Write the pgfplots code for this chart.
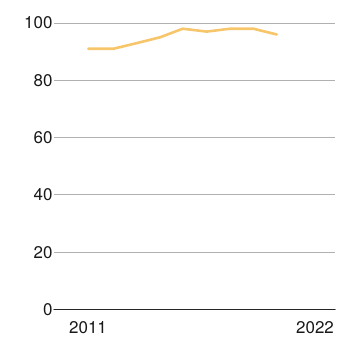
\documentclass[border=0pt]{standalone}
\usepackage{pgfplots}
\pgfplotsset{compat=1.18}
\usepackage{fontspec}
\setmainfont{TeX Gyre Heros}
\definecolor{lineyel}{HTML}{F8C66A}
\definecolor{gridg}{HTML}{B0B0B0}
\begin{document}
\begin{tikzpicture}
\useasboundingbox (0,0) rectangle (346bp,343bp);
\begin{axis}[
  at={(54bp,33.5bp)}, anchor=origin,
  scale only axis,
  width=281bp, height=286.5bp,
  xmin=54, xmax=335, ymin=0, ymax=100,
  axis line style={draw=none},
  clip=false,
  ytick={0,20,40,60,80,100},
  xtick={88,315}, xticklabels={2011,2022},
  ymajorgrids,
  grid style={gridg, line width=0.9bp},
  tick style={draw=none},
  ticklabel style={font=\fontsize{17}{19}\selectfont, text=black!90},
  /pgf/number format/assume math mode=true,
  yticklabel style={anchor=east, xshift=2bp},
  xticklabel style={anchor=north, yshift=-8.5bp},
  every axis plot/.append style={line join=round, line cap=round},
]
\addplot[draw=black!85, line width=1.5bp, forget plot] coordinates {(54,0) (335,0)};
\addplot[lineyel, line width=2.6bp, mark=none] coordinates {
(88.3,91) (113.3,91) (137,93) (160,95) (182.7,98) (206.7,97) (230,98) (253.3,98) (276.7,96)
};
\end{axis}
\end{tikzpicture}
\end{document}
